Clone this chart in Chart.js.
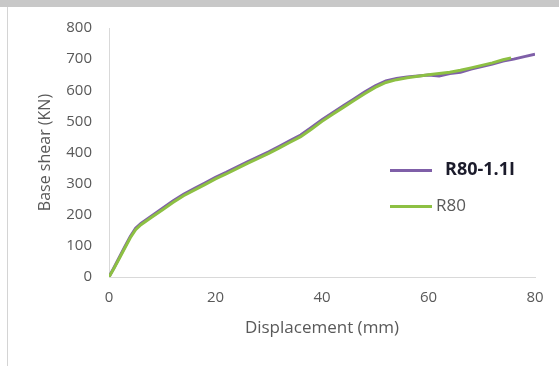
<!DOCTYPE html>
<html>
<head>
<meta charset="utf-8">
<script src="https://cdn.jsdelivr.net/npm/chart.js@4"></script>
<style>
  html, body { margin: 0; padding: 0; background: #fff; }
  body { width: 559px; height: 366px; position: relative; overflow: hidden; font-family: "Open Sans", sans-serif; }
  #wrap { position: absolute; left: 0; top: 0; width: 559px; height: 366px; }
  .band { position: absolute; left: 0; top: 0; width: 559px; height: 7px; background: #c8c8c8; }
  .edge { position: absolute; left: 7px; top: 7px; width: 1px; height: 359px; background: #d4d4d4; }
  .leg { position: absolute; left: 390px; height: 0; }
  .leg .sw { position: absolute; left: 0; width: 42px; height: 3px; }
  .leg .tx { position: absolute; white-space: nowrap; line-height: 1; }
</style>
</head>
<body>
<div id="wrap"><canvas id="chart" width="559" height="366"></canvas></div>
<div class="band"></div>
<div class="edge"></div>
<div class="leg" style="top:170px">
  <div class="sw" style="top:-1px;background:#7f5fa8"></div>
  <div class="tx" style="left:55px;top:-11px;font-size:18px;font-weight:700;color:#1b1b2b">R80-1.1I</div>
</div>
<div class="leg" style="top:206px">
  <div class="sw" style="top:-1px;background:#8dc043"></div>
  <div class="tx" style="left:46px;top:-10px;font-size:17px;color:#595959">R80</div>
</div>
<script>
// displacement (mm) / base shear (KN)
const dispA = [0, 1, 2, 3, 4, 5, 6, 8, 10, 12, 14, 16, 18, 20, 22, 24, 26, 28, 30, 32, 34, 36, 38, 40, 42, 44, 46, 48, 50, 52, 54, 56, 58, 60, 62, 64, 66, 68, 70, 72, 74, 76, 78, 80];
const shearA = [0, 32, 65, 98, 130, 157, 172, 196, 220, 244, 266, 284, 302, 320, 336, 353, 370, 386, 402, 420, 438, 456, 480, 505, 528, 550, 572, 594, 614, 630, 638, 643, 646, 649, 646, 654, 658, 668, 676, 684, 694, 700, 708, 716];
const dispB = [0, 1, 2, 3, 4, 5, 6, 8, 10, 12, 14, 16, 18, 20, 22, 24, 26, 28, 30, 32, 34, 36, 38, 40, 42, 44, 46, 48, 50, 52, 54, 56, 58, 60, 62, 64, 66, 68, 70, 72, 74, 75.5];
const shearB = [0, 30, 62, 94, 126, 152, 168, 192, 215, 239, 261, 279, 297, 315, 331, 348, 365, 381, 397, 415, 433, 451, 475, 500, 523, 545, 567, 589, 609, 625, 634, 640, 645, 650, 654, 658, 664, 672, 680, 688, 698, 704];
const xTicks = [0, 20, 40, 60, 80];
const yTicks = [0, 100, 200, 300, 400, 500, 600, 700, 800];

const toPts = (xs, ys) => xs.map((x, i) => ({ x, y: ys[i] }));
const FONT = '"Open Sans", sans-serif';
const GREY = '#595959';
const AXIS = '#d9d9d9';

new Chart(document.getElementById('chart'), {
  type: 'line',
  data: {
    datasets: [
      { label: 'R80-1.1I', data: toPts(dispA, shearA), borderColor: '#7f5fa8', borderWidth: 3, pointRadius: 0, tension: 0, order: 1 },
      { label: 'R80', data: toPts(dispB, shearB), borderColor: '#8dc043', borderWidth: 3, pointRadius: 0, tension: 0, order: 0 },
    ],
  },
  options: {
    responsive: false,
    animation: false,
    events: [],
    layout: { padding: { top: 28, right: 24, bottom: 0, left: 0 } },
    plugins: { legend: { display: false }, tooltip: { enabled: false } },
    scales: {
      x: {
        type: 'linear', min: xTicks[0], max: xTicks[xTicks.length - 1],
        afterBuildTicks: (s) => { s.ticks = xTicks.map((v) => ({ value: v })); },
        afterFit: (s) => { s.height = 89; },
        ticks: { color: GREY, font: { family: FONT, size: 15 }, padding: 12, maxRotation: 0 },
        grid: { color: 'transparent', drawTicks: false },
        border: { display: true, color: AXIS, width: 1 },
        title: { display: true, text: 'Displacement (mm)', color: GREY, font: { family: FONT, size: 17 }, padding: { top: 0, bottom: 28 } },
      },
      y: {
        min: yTicks[0], max: yTicks[yTicks.length - 1],
        afterBuildTicks: (s) => { s.ticks = yTicks.map((v) => ({ value: v })); },
        afterFit: (s) => { s.width = 109; },
        ticks: { color: GREY, font: { family: FONT, size: 15 }, padding: 17 },
        grid: { color: 'transparent', drawTicks: false },
        border: { display: true, color: AXIS, width: 1 },
        title: { display: true, text: 'Base shear (KN)', color: GREY, font: { family: FONT, size: 16 }, padding: { top: 36, bottom: 0 } },
      },
    },
  },
});
</script>
</body>
</html>
